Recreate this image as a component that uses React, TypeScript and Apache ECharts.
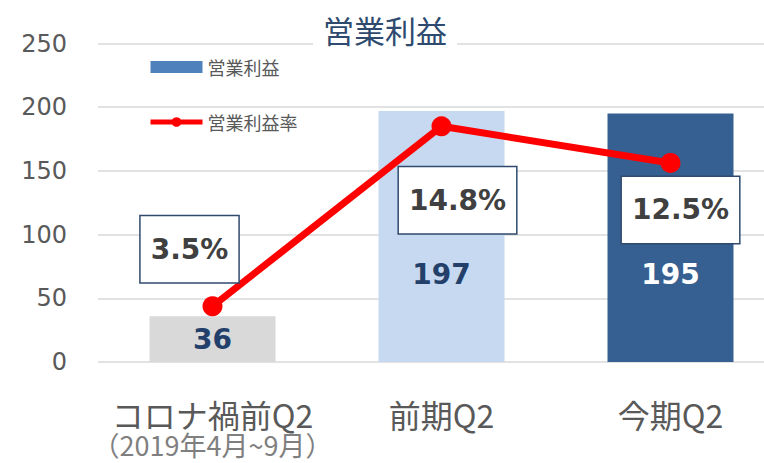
import React, { useEffect, useRef } from "react";
import * as echarts from "echarts";

const categories = ["コロナ禍前Q2\n（2019年4月~9月）", "前期Q2", "今期Q2"];
const operatingProfit = [36, 197, 195];
const profitMargin = [3.5, 14.8, 12.5];
const yTicks = { min: 0, max: 250, interval: 50 };
const marginAxis = { min: 0, max: 20 };
const seriesNames = ["営業利益", "営業利益率"];
const titleText = "営業利益";

const barColors = ["#D9D9D9", "#C6D9F0", "#376092"];
const barLabelColors = ["#23406A", "#23406A", "#FFFFFF"];
const barLabelDistance = [9, 74];
const marginLabelOffsets: [number, number][] = [
  [-23, -57],
  [16, 74],
  [10, 47],
];

const JP = "'Noto Sans CJK JP', 'Noto Sans', sans-serif";
const NUM = "'DejaVu Sans', Verdana, sans-serif";

export default function App() {
  const ref = useRef<HTMLDivElement>(null);
  useEffect(() => {
    if (!ref.current) return;
    const chart = echarts.init(ref.current, null, { renderer: "svg" });
    chart.setOption({
      animation: false,
      backgroundColor: "#FFFFFF",
      title: {
        text: titleText,
        left: 313,
        top: 12,
        padding: [2, 10],
        backgroundColor: "#FFFFFF",
        textStyle: {
          fontFamily: JP,
          fontSize: 31,
          fontWeight: "normal",
          color: "#2E4A6E",
        },
      },
      legend: {
        orient: "vertical",
        left: 143,
        top: 53,
        itemGap: 37,
        itemWidth: 52,
        itemHeight: 12,
        textStyle: { fontFamily: JP, fontSize: 18, color: "#595959" },
        data: [
          { name: seriesNames[0], icon: "rect" },
          { name: seriesNames[1], lineStyle: { width: 5 } },
        ],
      },
      grid: {
        left: 98,
        width: 687,
        top: 43.5,
        bottom: 101,
        outerBoundsMode: "none",
        containLabel: false,
      },
      xAxis: {
        type: "category",
        data: categories,
        axisLine: { show: false },
        axisTick: { show: false },
        axisLabel: {
          margin: 35,
          interval: 0,
          hideOverlap: false,
          formatter: (v: string) => {
            const parts = v.split("\n");
            return parts.length > 1
              ? `{a|${parts[0]}}\n{b|${parts[1]}}`
              : `{a|${parts[0]}}`;
          },
          rich: {
            a: { fontFamily: JP, fontSize: 32, lineHeight: 33, color: "#595959" },
            b: { fontFamily: JP, fontSize: 27, lineHeight: 29, color: "#7F7F7F" },
          },
        },
      },
      yAxis: [
        {
          type: "value",
          min: yTicks.min,
          max: yTicks.max,
          interval: yTicks.interval,
          axisLine: { show: false },
          axisTick: { show: false },
          axisLabel: { margin: 31, fontFamily: NUM, fontSize: 24, color: "#595959" },
          splitLine: { lineStyle: { color: "#D9D9D9", width: 1.5 } },
        },
        {
          type: "value",
          min: marginAxis.min,
          max: marginAxis.max,
          show: false,
          splitLine: { show: false },
        },
      ],
      series: [
        {
          name: seriesNames[0],
          type: "bar",
          barWidth: 126,
          itemStyle: { color: "#4F81BD" },
          data: operatingProfit.map((v, i) => ({
            value: v,
            itemStyle: { color: barColors[i] },
            label: {
              show: true,
              position: "insideBottom",
              distance: i === 0 ? barLabelDistance[0] : barLabelDistance[1],
              color: barLabelColors[i],
              fontFamily: NUM,
              fontWeight: "bold",
              fontSize: 28,
            },
          })),
        },
        {
          name: seriesNames[1],
          type: "line",
          yAxisIndex: 1,
          symbol: "circle",
          symbolSize: 20,
          z: 5,
          lineStyle: { color: "#FF0000", width: 7 },
          itemStyle: { color: "#FF0000" },
          data: profitMargin.map((v, i) => ({
            value: v,
            label: {
              show: true,
              position: "inside",
              offset: marginLabelOffsets[i],
              formatter: (p: any) => `${Number(p.value).toFixed(1)}%`,
              color: "#404040",
              fontFamily: NUM,
              fontWeight: "bold",
              fontSize: 28,
              backgroundColor: "#FFFFFF",
              borderColor: "#2F4A6E",
              borderWidth: 1.5,
              padding: [19, 10],
            },
          })),
        },
      ],
    });
    return () => chart.dispose();
  }, []);
  return (
    <div
      ref={ref}
      style={{ position: "fixed", left: 0, top: 0, width: 764, height: 463 }}
    />
  );
}
